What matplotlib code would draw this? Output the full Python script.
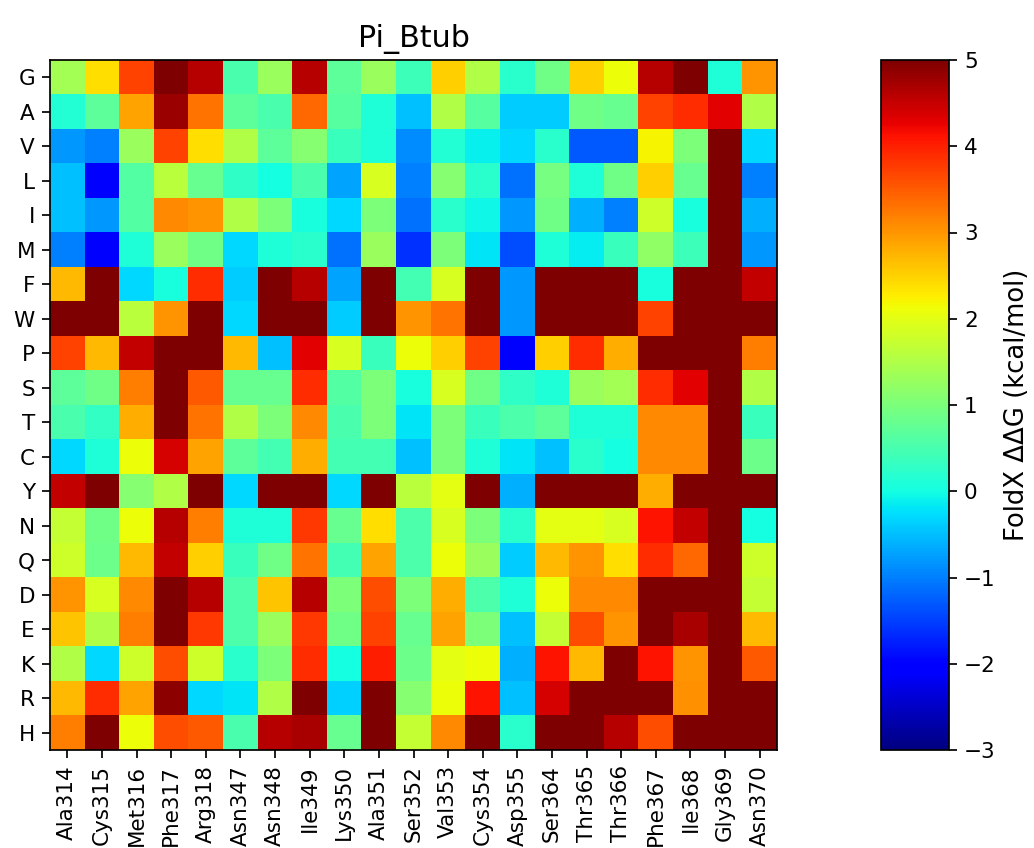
import matplotlib
matplotlib.use("Agg")
import matplotlib.pyplot as plt
import numpy as np

# mutant amino acids (rows) and wild-type positions (columns)
mutants = ['G', 'A', 'V', 'L', 'I', 'M', 'F', 'W', 'P', 'S',
           'T', 'C', 'Y', 'N', 'Q', 'D', 'E', 'K', 'R', 'H']
positions = ['Ala314', 'Cys315', 'Met316', 'Phe317', 'Arg318', 'Asn347', 'Asn348',
             'Ile349', 'Lys350', 'Ala351', 'Ser352', 'Val353', 'Cys354', 'Asp355',
             'Ser364', 'Thr365', 'Thr366', 'Phe367', 'Ile368', 'Gly369', 'Asn370']

# FoldX ddG per mutant row (clipped at 5)
ddg_G = [1.4, 2.4, 3.7, 5.0, 4.6, 0.5, 1.3, 4.6, 0.7, 1.3, 0.4, 2.5, 1.5, 0.2, 0.9, 2.5, 2.1, 4.6, 5.0, 0.1, 3.0]
ddg_A = [0.15, 0.7, 2.9, 4.8, 3.3, 0.7, 0.5, 3.4, 0.65, 0.1, -0.5, 1.5, 0.65, -0.4, -0.4, 0.9, 0.8, 3.7, 3.9, 4.3, 1.5]
ddg_V = [-0.8, -1.0, 1.3, 3.7, 2.4, 1.5, 0.7, 1.1, 0.35, 0.1, -0.9, 0.15, -0.1, -0.3, 0.2, -1.3, -1.3, 2.2, 1.0, 5.0, -0.3]
ddg_L = [-0.5, -2.1, 0.6, 1.6, 0.8, 0.25, 0.0, 0.5, -0.7, 1.9, -1.0, 1.1, 0.2, -1.1, 0.95, 0.1, 0.9, 2.5, 0.8, 5.0, -1.0]
ddg_I = [-0.5, -0.8, 0.6, 3.1, 3.0, 1.5, 1.0, 0.05, -0.3, 1.0, -1.1, 0.2, -0.05, -0.8, 0.9, -0.6, -1.0, 1.8, 0.05, 5.0, -0.6]
ddg_M = [-1.0, -2.1, 0.1, 1.3, 0.9, -0.3, 0.1, 0.2, -1.1, 1.3, -1.6, 1.0, -0.2, -1.4, 0.1, -0.15, 0.35, 1.2, 0.4, 5.0, -0.8]
ddg_F = [2.7, 5.0, -0.3, 0.05, 3.9, -0.4, 5.0, 4.6, -0.7, 5.0, 0.45, 1.9, 5.0, -0.8, 5.0, 5.0, 5.0, 0.05, 5.0, 5.0, 4.5]
ddg_W = [5.0, 5.0, 1.6, 3.0, 5.0, -0.3, 5.0, 5.0, -0.4, 5.0, 3.0, 3.3, 5.0, -0.8, 5.0, 5.0, 5.0, 3.7, 5.0, 5.0, 5.0]
ddg_P = [3.7, 2.7, 4.5, 5.0, 5.0, 2.7, -0.5, 4.3, 1.9, 0.35, 2.1, 2.5, 3.7, -2.1, 2.5, 3.9, 2.8, 5.0, 5.0, 5.0, 3.2]
ddg_S = [0.7, 0.9, 3.2, 5.0, 3.5, 0.8, 0.8, 3.9, 0.6, 1.0, 0.05, 1.9, 0.9, 0.25, 0.1, 1.3, 1.4, 3.9, 4.3, 5.0, 1.5]
ddg_T = [0.5, 0.3, 2.8, 5.0, 3.3, 1.5, 1.0, 3.1, 0.5, 1.0, -0.2, 1.0, 0.35, 0.55, 0.7, 0.1, 0.1, 3.1, 3.1, 5.0, 0.35]
ddg_C = [-0.3, 0.1, 2.1, 4.4, 2.9, 0.7, 0.45, 2.8, 0.45, 0.45, -0.5, 1.0, 0.1, -0.2, -0.5, 0.2, 0.0, 3.1, 3.1, 5.0, 0.85]
ddg_Y = [4.5, 5.0, 1.1, 1.5, 5.0, -0.3, 5.0, 5.0, -0.3, 5.0, 1.6, 2.0, 5.0, -0.6, 5.0, 5.0, 5.0, 2.8, 5.0, 5.0, 5.0]
ddg_N = [1.7, 0.9, 2.1, 4.6, 3.2, 0.1, 0.1, 3.8, 0.8, 2.4, 0.55, 1.9, 1.0, 0.2, 2.0, 2.0, 1.9, 4.1, 4.5, 5.0, 0.0]
ddg_Q = [1.8, 0.85, 2.7, 4.5, 2.5, 0.35, 0.9, 3.3, 0.45, 2.9, 0.55, 2.1, 1.3, -0.4, 2.7, 3.0, 2.4, 3.9, 3.4, 5.0, 1.8]
ddg_D = [3.0, 1.9, 3.1, 5.0, 4.6, 0.55, 2.6, 4.6, 1.0, 3.6, 1.0, 2.8, 0.55, 0.1, 2.1, 3.1, 3.1, 5.0, 5.0, 5.0, 1.7]
ddg_E = [2.6, 1.5, 3.2, 5.0, 3.8, 0.55, 1.3, 3.8, 0.9, 3.7, 0.8, 2.9, 1.0, -0.5, 1.7, 3.6, 3.0, 5.0, 4.7, 5.0, 2.7]
ddg_K = [1.5, -0.3, 1.8, 3.6, 1.8, 0.2, 1.0, 3.9, 0.0, 4.0, 0.85, 2.0, 2.1, -0.6, 4.1, 2.7, 5.0, 4.1, 3.0, 5.0, 3.5]
ddg_R = [2.7, 3.9, 2.9, 4.9, -0.3, -0.2, 1.5, 5.0, -0.35, 5.0, 1.1, 2.1, 4.1, -0.5, 4.4, 5.0, 5.0, 5.0, 3.05, 5.0, 5.0]
ddg_H = [3.2, 5.0, 2.1, 3.6, 3.5, 0.5, 4.6, 4.7, 0.8, 5.0, 1.7, 3.1, 5.0, 0.2, 5.0, 5.0, 4.6, 3.6, 5.0, 5.0, 5.0]

ddg = np.array([ddg_G, ddg_A, ddg_V, ddg_L, ddg_I, ddg_M, ddg_F, ddg_W, ddg_P, ddg_S,
                ddg_T, ddg_C, ddg_Y, ddg_N, ddg_Q, ddg_D, ddg_E, ddg_K, ddg_R, ddg_H])

fig = plt.figure(figsize=(1034 / 155, 848 / 155), dpi=155)
ax = fig.add_axes([50 / 1034, 1 - 750 / 848, 727 / 1034, 690 / 848])
cax = fig.add_axes([881 / 1034, 1 - 750 / 848, 68 / 1034, 690 / 848])

im = ax.imshow(ddg, cmap='jet', vmin=-3, vmax=5, aspect='auto')
ax.set_xticks(np.arange(len(positions)))
ax.set_xticklabels(positions, rotation=90)
ax.set_yticks(np.arange(len(mutants)))
ax.set_yticklabels(mutants)
ax.set_title('Pi_Btub', fontsize=14)

cbar = fig.colorbar(im, cax=cax)
cbar.set_label('FoldX ΔΔG (kcal/mol)', fontsize=12)

fig.savefig('out.png', dpi=155)
plt.close(fig)
